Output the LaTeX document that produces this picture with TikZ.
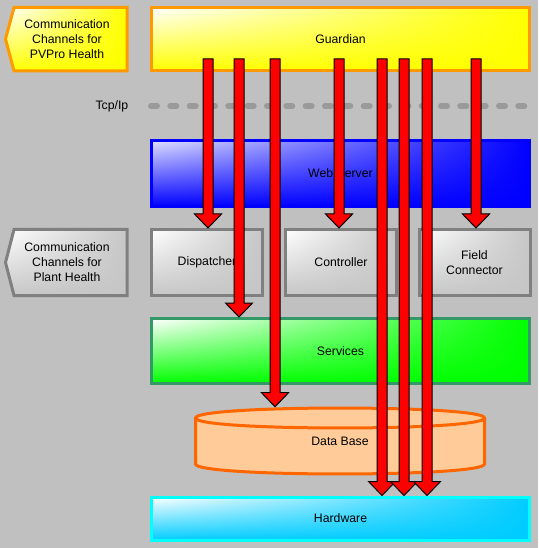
\documentclass[tikz,border=0pt]{standalone}
\usepackage{fontspec}
\setmainfont{Liberation Sans}
\usetikzlibrary{calc,shadings}
\definecolor{bgc}{HTML}{C0C0C0}
\definecolor{orng}{HTML}{FF9900}
\definecolor{ylw}{HTML}{FFFF00}
\definecolor{blu}{HTML}{0000FF}
\definecolor{gbord}{HTML}{808080}
\definecolor{gfill}{HTML}{C6C6C6}
\definecolor{grnb}{HTML}{339966}
\definecolor{grn}{HTML}{00FF00}
\definecolor{dbf}{HTML}{FFCC99}
\definecolor{dbb}{HTML}{FF6600}
\definecolor{cyb}{HTML}{00FFFF}
\definecolor{cyf}{HTML}{00CCFF}
\definecolor{dashc}{HTML}{9A9A9A}
\newcommand\blockarrow[2]{%
  \path[fill=red,draw=black,line width=0.75pt,line join=miter]
   ($(#1)+(-5,0)$) -- ($(#2)+(-5,-14)$) -- ($(#2)+(-13.5,-14)$) -- (#2)
   -- ($(#2)+(13.5,-14)$) -- ($(#2)+(5,-14)$) -- ($(#1)+(5,0)$) -- cycle;}
\begin{document}
\begin{tikzpicture}[x=0.75pt,y=-0.75pt,
  every node/.style={font=\fontsize{9.2}{11.3}\selectfont, text=black},
  box/.style={rectangle, inner sep=0pt, line width=2.25pt, align=center},
  sbox/.style 2 args={box, draw=#1, upper left=white, upper right=#2, lower left=#2, lower right=#2},
  pent/.style 2 args={line width=2.25pt, line join=miter, draw=#1, upper left=white, upper right=#2, lower left=#2, lower right=#2}]
\useasboundingbox (0,0) rectangle (538,548);
\fill[bgc] (0,0) rectangle (538,548);

% left pentagons
\path[pent={orng}{ylw}] (14,7.5) -- (127,7.5) -- (127,71) -- (14,71) -- (5.5,39) -- cycle;
\node[align=center] (pvpro) at (67,39) {Communication\\Channels for\\PVPro Health};
\path[pent={gbord}{gfill}] (14,229.5) -- (127,229.5) -- (127,295.5) -- (14,295.5) -- (5.5,262.5) -- cycle;
\node[align=center] (plant) at (67,262.5) {Communication\\Channels for\\Plant Health};

% main boxes
\node[sbox={orng}{ylw}, minimum width=283.5pt, minimum height=47.5pt] (guardian) at (340.5,39) {Guardian};
\node[anchor=east] (tcp) at (133,106) {Tcp/Ip};
\coordinate (dl) at (151,106);
\coordinate (dr) at (525,106);
\draw[dashc, line width=4.5pt, line cap=round, dash pattern=on 4.5pt off 10pt] (dl) -- (dr);
\node[sbox={blu}{blu}, upper left=blu!12, minimum width=283.5pt, minimum height=49.5pt] (web) at (340.5,173.5) {Web Server};
\node[sbox={gbord}{gfill}, minimum width=83.25pt, minimum height=49.5pt] (disp) at (207,262.5) {Dispatcher};
\node[sbox={gbord}{gfill}, minimum width=83.25pt, minimum height=49.5pt] (ctrl) at (341,262.5) {Controller};
\node[sbox={gbord}{gfill}, minimum width=83.25pt, minimum height=49.5pt] (field) at (474.5,262.5) {Field\\Connector};
\node[sbox={grnb}{grn}, minimum width=283.5pt, minimum height=48.75pt] (serv) at (340.5,351) {Services};
\node[sbox={cyb}{cyf}, minimum width=283.5pt, minimum height=32.25pt] (hw) at (340.5,518.5) {Hardware};

% data base cylinder
\node[inner sep=0pt, minimum width=219pt, minimum height=51pt] (db) at (340,441) {};
\path[fill=dbf, draw=dbb, line width=2.25pt]
  (195.5,418) -- (195.5,464) .. controls (195.5,477.3) and (484.5,477.3) .. (484.5,464)
  -- (484.5,418) .. controls (484.5,404.7) and (195.5,404.7) .. (195.5,418) -- cycle;
\draw[dbb, line width=2.25pt] (195.5,418) .. controls (195.5,431.3) and (484.5,431.3) .. (484.5,418);
\node at (db.center) [yshift=-0.3pt] {Data Base};

% arrows
\coordinate (s1) at (208,59);
\coordinate (s2) at (239,59);
\coordinate (s3) at (275,59);
\coordinate (s4) at (339,59);
\coordinate (s5) at (382,59);
\coordinate (s6) at (404,59);
\coordinate (s7) at (427,59);
\coordinate (s8) at (476,59);
\coordinate (e1) at (s1 |- disp.north);
\coordinate (e2) at (s2 |- serv.north);
\coordinate (e3) at (s3 |- db.north);
\coordinate (e4) at (s4 |- ctrl.north);
\coordinate (e5) at (s5 |- hw.north);
\coordinate (e6) at (s6 |- hw.north);
\coordinate (e7) at (s7 |- hw.north);
\coordinate (e8) at (s8 |- field.north);
\blockarrow{s1}{e1}
\blockarrow{s2}{e2}
\blockarrow{s3}{e3}
\blockarrow{s4}{e4}
\blockarrow{s5}{e5}
\blockarrow{s6}{e6}
\blockarrow{s7}{e7}
\blockarrow{s8}{e8}
\end{tikzpicture}
\end{document}
